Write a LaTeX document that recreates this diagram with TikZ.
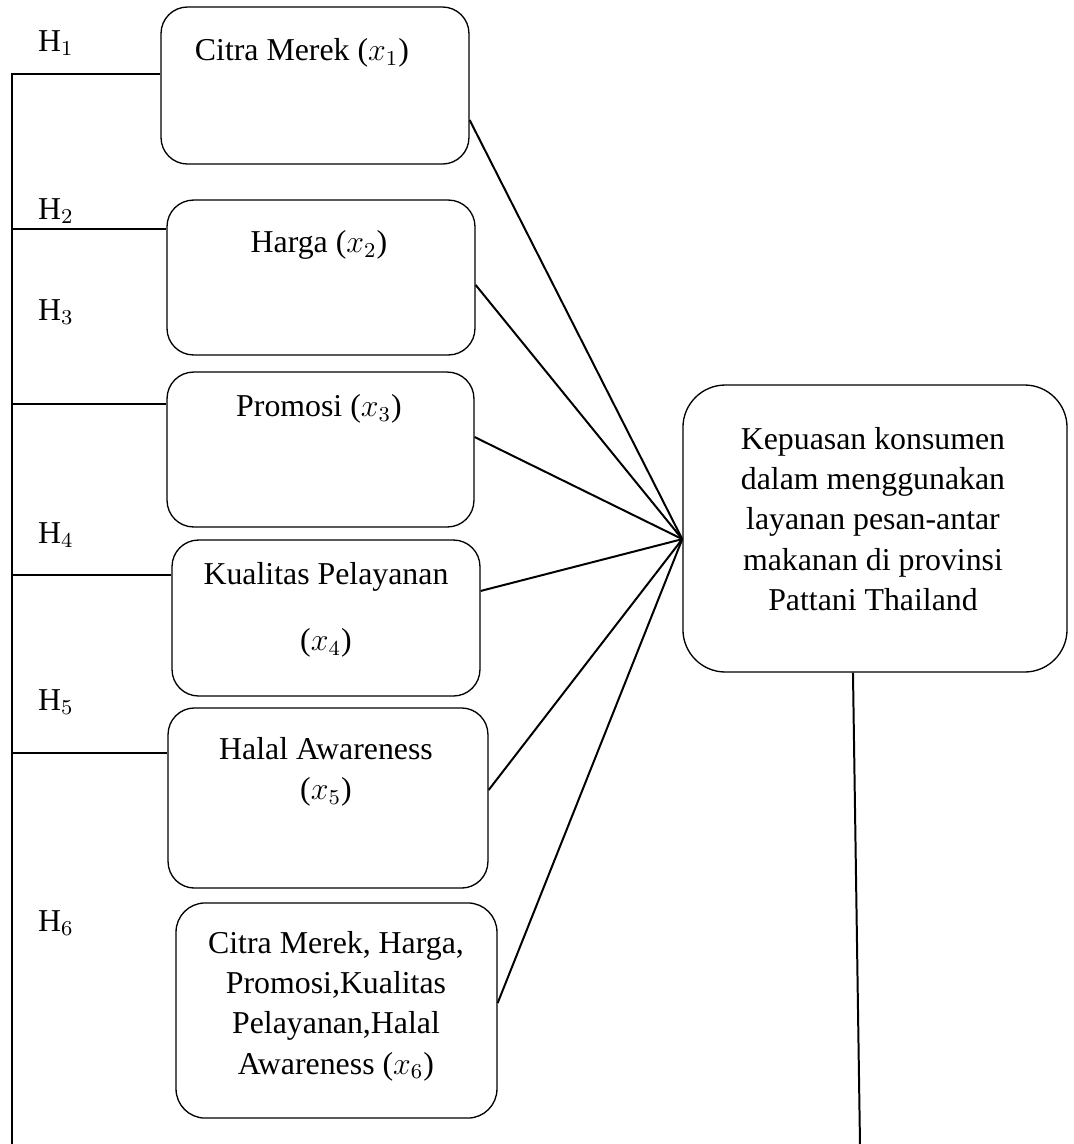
\documentclass[tikz,border=0pt]{standalone}
\usepackage{fontspec}
\setmainfont{Liberation Serif}
\usetikzlibrary{positioning}

\begin{document}
\begin{tikzpicture}[
x=0.377pt, y=-0.377pt,
box/.style={draw, line width=0.5pt, rounded corners=10pt, inner sep=0pt},
lbl/.style={align=center, inner sep=0pt, font=\fontsize{12}{15.2}\selectfont},
hyp/.style={inner sep=0pt, font=\fontsize{12}{15.2}\selectfont},
link/.style={line width=0.75pt}
]
\useasboundingbox (0,0) rectangle (1074,1144);

% variabel bebas
\node[box, minimum width=116.1pt, minimum height=59.2pt] (box1) at (315,85.5) {};
\node[box, minimum width=116.1pt, minimum height=58.4pt] (box2) at (321,277.5) {};
\node[box, minimum width=115.7pt, minimum height=58.4pt] (box3) at (320.5,449.5) {};
\node[box, minimum width=116.1pt, minimum height=58.8pt] (box4) at (326,618) {};
\node[box, minimum width=120.6pt, minimum height=67.9pt] (box5) at (328,798) {};
\node[box, rounded corners=11pt, minimum width=121pt, minimum height=81.1pt] (box6) at (336.5,1010.5) {};

\node[lbl] (t1) at (302,53) {Citra Merek ($x_1$)};
\node[lbl] (t2) at (319,245) {Harga ($x_2$)};
\node[lbl] (t3) at (319,409) {Promosi ($x_3$)};
\node[lbl] (t4) at (326,610) {Kualitas Pelayanan\\[9.6pt] ($x_4$)};
\node[lbl] (t5) at (326,772) {Halal Awareness\\ ($x_5$)};
\node[lbl] (t6) at (336,1006) {Citra Merek, Harga,\\ Promosi,Kualitas\\ Pelayanan,Halal\\ Awareness ($x_6$)};

% variabel terikat
\node[box, rounded corners=16pt, minimum width=144.8pt, minimum height=108.2pt] (kep) at (875,528.5) {};
\node[lbl] (tkep) at (873,519) {Kepuasan konsumen\\ dalam menggunakan\\ layanan pesan-antar\\ makanan di provinsi\\ Pattani Thailand};

% hipotesis
\node[hyp] (h1) at (56,43) {H$_1$};
\node[hyp] (h2) at (56,211) {H$_2$};
\node[hyp] (h3) at (56,312) {H$_3$};
\node[hyp] (h4) at (56,535) {H$_4$};
\node[hyp] (h5) at (56,702) {H$_5$};
\node[hyp] (h6) at (56,923) {H$_6$};

\coordinate (hub) at ([yshift=-4pt]kep.west);
\coordinate (busbot) at (12,1144);
\coordinate (kepend) at (860,1144);

% garis ke variabel terikat
\draw[link] ([yshift=-13pt]box1.east) -- (hub);
\draw[link] ([yshift=-2.8pt]box2.east) -- (hub);
\draw[link] ([yshift=4.7pt]box3.east) -- (hub);
\draw[link] ([yshift=10.2pt]box4.east) -- (hub);
\draw[link] ([yshift=3pt]box5.east) -- (hub);
\draw[link] ([yshift=2.8pt]box6.east) -- (hub);

% garis hipotesis kiri
\draw[link] ([yshift=4.3pt]box1.west) -| (busbot);
\draw[link] ([yshift=18.3pt]box2.west) -| (busbot);
\draw[link] ([yshift=17.2pt]box3.west) -| (busbot);
\draw[link] ([yshift=16.2pt]box4.west) -| (busbot);
\draw[link] ([yshift=17pt]box5.west) -| (busbot);

\draw[link] ([xshift=-8.3pt]kep.south) -- (kepend);
\end{tikzpicture}
\end{document}
